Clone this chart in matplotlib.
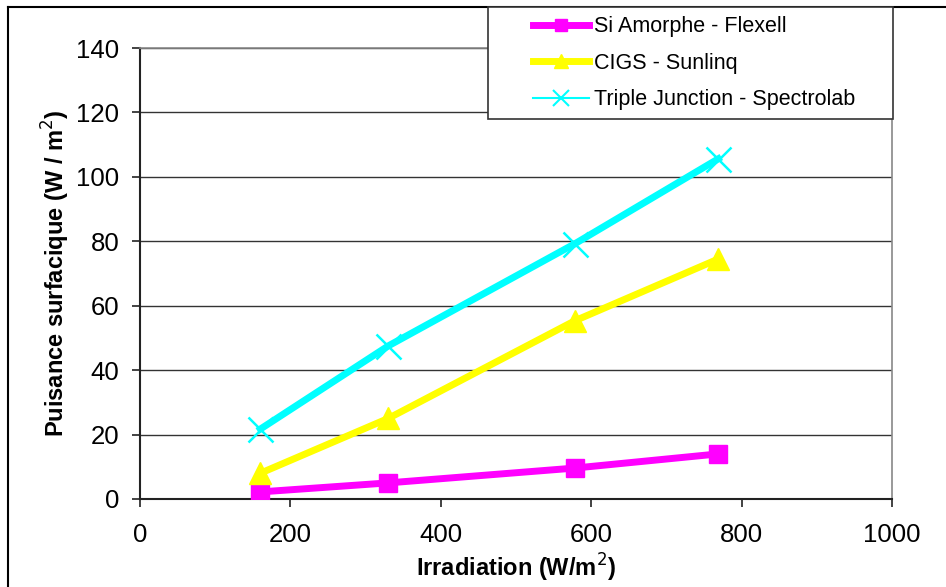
import matplotlib; matplotlib.use('Agg')
import matplotlib.pyplot as plt
from matplotlib.lines import Line2D
from matplotlib.patches import Rectangle

plt.rcParams['font.family'] = ['Liberation Sans', 'DejaVu Sans']

irradiation = [160, 330, 578, 769]
si_amorphe = [2.2, 5.0, 9.6, 14.0]
cigs = [8.0, 25.0, 55.3, 74.5]
triple = [21.7, 47.5, 79.2, 105.6]

labels = ['Si Amorphe - Flexell', 'CIGS - Sunlinq', 'Triple Junction - Spectrolab']
colors = ['#FF00FF', '#FFFF00', '#00FFFF']

W, H = 946, 587
fig = plt.figure(figsize=(W/100, H/100), dpi=100)
ax = fig.add_axes([140/W, 1-499/H, 752/W, 451/H])

ax.plot(irradiation, si_amorphe, color=colors[0], lw=5, marker='s', ms=13, zorder=3)
ax.plot(irradiation, cigs, color=colors[1], lw=5, marker='^', ms=16, zorder=3)
ax.plot(irradiation, triple, color=colors[2], lw=5, marker='x', ms=18, mew=1.8, zorder=4)

ax.set_xlim(0, 1000); ax.set_ylim(0, 140)
ax.set_xticks(range(0, 1001, 200)); ax.set_yticks(range(0, 141, 20))
ax.grid(axis='y', color='#333333', lw=1)
ax.set_axisbelow(True)
for s in ['top', 'right']:
    ax.spines[s].set_color('#888888'); ax.spines[s].set_linewidth(1.2)
for s in ['left', 'bottom']:
    ax.spines[s].set_color('#222222'); ax.spines[s].set_linewidth(1.5)
ax.tick_params(axis='both', direction='out', length=6, width=1.2, labelsize=18.5, color='#222222')
ax.tick_params(axis='y', pad=9)
ax.tick_params(axis='x', pad=11)
ax.set_xlabel('Irradiation (W/m$^2$)', fontsize=17, fontweight='bold', labelpad=4)
ax.set_ylabel('Puisance surfacique (W / m$^2$)', fontsize=17, fontweight='bold', labelpad=3)

# outer chart frame (top and left edges visible)
fig.add_artist(Line2D([8/W, 1], [1-7/H, 1-7/H], color='black', lw=1.5, transform=fig.transFigure))
fig.add_artist(Line2D([8/W, 8/W], [0, 1-7/H], color='black', lw=1.5, transform=fig.transFigure))

# legend box
fig.add_artist(Rectangle((488/W, 1-119/H), (893-488)/W, (119-7)/H, transform=fig.transFigure,
                         facecolor='white', edgecolor='#333333', lw=1.2, zorder=5))
handles = [Line2D([], [], color=colors[0], lw=5, marker='s', ms=8),
           Line2D([], [], color=colors[1], lw=5, marker='^', ms=10),
           Line2D([], [], color=colors[2], lw=1.5, marker='x', ms=12, mew=1.5)]
leg = fig.legend(handles, labels, loc='upper left', bbox_to_anchor=(514/W, 1+3/H), frameon=False,
                 fontsize=15.5, handlelength=2.6, handletextpad=0.22, labelspacing=0.72)
leg.set_zorder(6)

fig.savefig('out.png', dpi=100)
